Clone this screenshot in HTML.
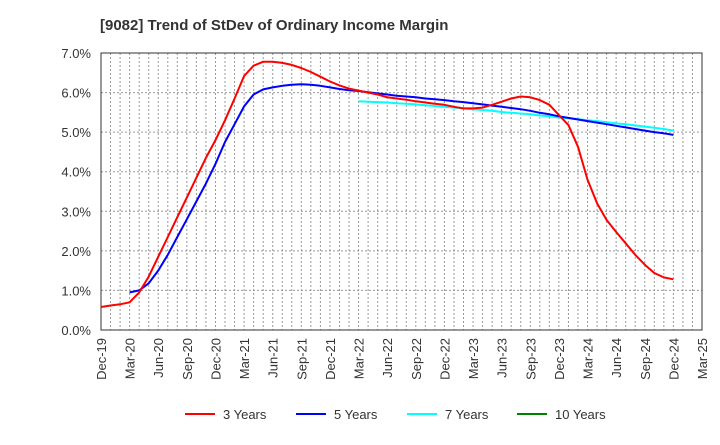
<!DOCTYPE html>
<html><head><meta charset="utf-8"><style>
body{margin:0;background:#fff;font-family:"Liberation Sans",Arial,sans-serif;}
svg text{font-family:"Liberation Sans",Arial,sans-serif;}
</style></head><body>
<svg id="chart" width="720" height="440" xmlns="http://www.w3.org/2000/svg">
<rect width="720" height="440" fill="#fff"/>
<text x="100" y="30" font-size="15" font-weight="bold" fill="#333">[9082]  Trend of StDev of Ordinary Income Margin</text>
<g id="grid"></g><g id="axes"></g><g id="series"></g><g id="legend"></g>
</svg>
<script>
const xTickLabels=["Dec-19","Mar-20","Jun-20","Sep-20","Dec-20","Mar-21","Jun-21","Sep-21","Dec-21","Mar-22","Jun-22","Sep-22","Dec-22","Mar-23","Jun-23","Sep-23","Dec-23","Mar-24","Jun-24","Sep-24","Dec-24","Mar-25"];
const yTicks=[0,1,2,3,4,5,6,7];
const series3Start=0;
const series3=[0.58,0.62,0.65,0.70,0.95,1.35,1.85,2.35,2.85,3.35,3.85,4.35,4.8,5.3,5.85,6.42,6.68,6.78,6.78,6.75,6.7,6.62,6.52,6.4,6.28,6.18,6.1,6.05,6.0,5.95,5.88,5.85,5.82,5.78,5.75,5.72,5.69,5.64,5.6,5.6,5.62,5.69,5.77,5.85,5.9,5.88,5.81,5.69,5.43,5.18,4.63,3.8,3.2,2.78,2.48,2.19,1.9,1.65,1.44,1.33,1.28];
const series5Start=3;
const series5=[0.95,1.0,1.18,1.5,1.9,2.35,2.8,3.25,3.7,4.2,4.75,5.2,5.65,5.95,6.08,6.13,6.17,6.2,6.21,6.2,6.17,6.13,6.09,6.06,6.04,6.01,5.98,5.95,5.92,5.90,5.88,5.85,5.83,5.81,5.78,5.76,5.73,5.70,5.67,5.64,5.61,5.58,5.54,5.49,5.45,5.40,5.36,5.32,5.28,5.24,5.20,5.16,5.12,5.08,5.04,5.00,4.97,4.93];
const series7Start=27;
const series7=[5.78,5.77,5.76,5.75,5.73,5.72,5.7,5.68,5.66,5.64,5.62,5.6,5.58,5.56,5.54,5.51,5.49,5.47,5.45,5.42,5.4,5.37,5.35,5.33,5.3,5.28,5.25,5.22,5.2,5.17,5.14,5.11,5.08,5.04];
const series10Start=0;
const series10=[];
const NS="http://www.w3.org/2000/svg";
const L=101,R=702,T=53,B=330,months=63;
const xs=m=>L+(R-L)*m/months;
const ys=v=>B-(B-T)*v/7;
function mk(tag,attrs,parent){const e=document.createElementNS(NS,tag);for(const k in attrs)e.setAttribute(k,attrs[k]);parent.appendChild(e);return e;}
const grid=document.getElementById('grid'),axes=document.getElementById('axes'),ser=document.getElementById('series'),leg=document.getElementById('legend');
for(let m=1;m<months;m++){const l=mk('line',{x1:xs(m),x2:xs(m),y1:T,y2:B,stroke:'#999','stroke-width':1,'stroke-dasharray':'2,2'},grid);

}
yTicks.forEach(v=>{if(v>0&&v<7){const l=mk('line',{x1:L,x2:R,y1:ys(v),y2:ys(v),stroke:'#999','stroke-width':1,'stroke-dasharray':'2,2'},grid);

}
const t=mk('text',{x:91,y:ys(v)+5,'text-anchor':'end','font-size':13,fill:'#333'},axes);t.textContent=v.toFixed(1)+'%';

});
const frame=mk('rect',{x:L,y:T,width:R-L,height:B-T,fill:'none',stroke:'#333','stroke-width':1},axes);


xTickLabels.forEach((s,i)=>{const x=xs(i*3);const t=mk('text',{x:0,y:0,transform:`translate(${x+5},338) rotate(-90)`,'text-anchor':'end','font-size':13,fill:'#333'},axes);t.textContent=s;

});
function line(data,start,color,name){if(!data.length)return;const d=data.map((v,i)=>(i?'L':'M')+xs(start+i).toFixed(1)+','+ys(v).toFixed(1)).join(' ');
const p=mk('path',{d:d,fill:'none',stroke:color,'stroke-width':2,'stroke-linejoin':'round'},ser);

}
line(series7,series7Start,'#00ffff','line-7-years');
line(series5,series5Start,'#0000ff','line-5-years');
line(series3,series3Start,'#ff0000','line-3-years');
line(series10,series10Start,'#008000','line-10-years');
const legItems=[["3 Years","#ff0000",185],["5 Years","#0000ff",296],["7 Years","#00ffff",407],["10 Years","#008000",517]];
legItems.forEach(it=>{const g=mk('g',{},leg);


mk('line',{x1:it[2],x2:it[2]+30,y1:414,y2:414,stroke:it[1],'stroke-width':2},g);
const t=mk('text',{x:it[2]+38,y:419,'font-size':13,fill:'#333'},g);t.textContent=it[0];});
</script>
</body></html>
